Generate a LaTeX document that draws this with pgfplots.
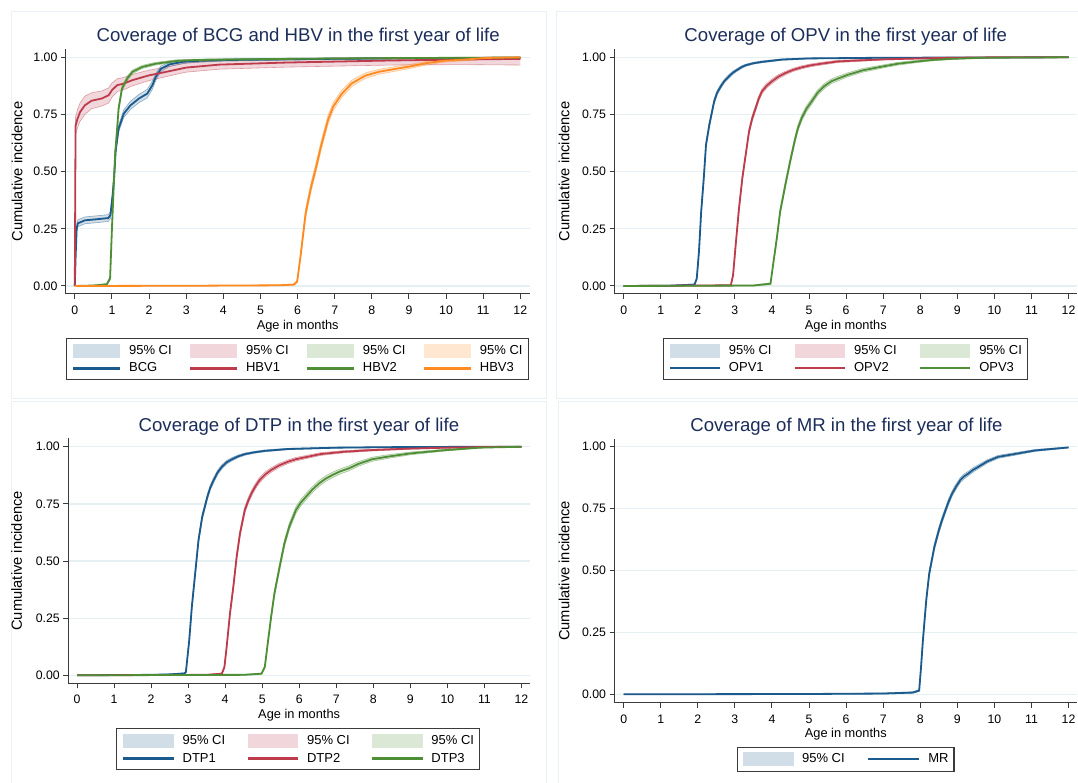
\documentclass[border=0pt]{standalone}
\usepackage{fontspec}
\setmainfont{Liberation Sans}
\usepackage{pgfplots}
\usepackage{pgfplotstable}
\pgfplotsset{compat=1.18}

\definecolor{cblue}{HTML}{1B5A8C}
\definecolor{cred}{HTML}{BD3B4B}
\definecolor{cgreen}{HTML}{4E8F36}
\definecolor{corange}{HTML}{FF8A1F}
\definecolor{titlenavy}{HTML}{1C2D5A}
\definecolor{axisgray}{HTML}{3A3A3A}
\definecolor{gridblue}{HTML}{E6F0F2}
\definecolor{panelline}{HTML}{EAF1F4}

% t = age in months, v = cumulative incidence, lo/hi = 95% CI
\pgfplotstableread{
t v lo hi
0 0 0 0
0.02 0.12 0.10 0.14
0.05 0.25 0.235 0.265
0.08 0.274 0.259 0.289
0.27 0.287 0.272 0.302
0.6 0.292 0.277 0.307
0.9 0.297 0.282 0.312
0.96 0.31 0.295 0.325
1.02 0.40 0.385 0.415
1.06 0.48 0.465 0.495
1.1 0.59 0.575 0.605
1.18 0.688 0.673 0.703
1.32 0.754 0.737 0.771
1.5 0.79 0.772 0.808
1.73 0.82 0.802 0.838
1.95 0.841 0.822 0.86
2.09 0.878 0.86 0.896
2.18 0.914 0.898 0.93
2.32 0.95 0.938 0.962
2.55 0.969 0.96 0.978
2.91 0.98 0.973 0.987
3.27 0.984 0.978 0.99
4 0.988 0.983 0.993
6 0.992 0.988 0.996
9 0.996 0.993 0.999
12 0.998 0.996 1.0
}\bcg

\pgfplotstableread{
t v lo hi
0 0 0 0
0.01 0.35 0.30 0.40
0.02 0.70 0.66 0.74
0.07 0.73 0.69 0.77
0.14 0.76 0.72 0.80
0.27 0.79 0.75 0.83
0.45 0.81 0.775 0.845
0.73 0.82 0.787 0.853
0.91 0.834 0.80 0.866
1.0 0.856 0.825 0.887
1.14 0.878 0.85 0.906
1.32 0.885 0.858 0.912
1.55 0.90 0.875 0.925
2.0 0.921 0.898 0.944
2.45 0.936 0.915 0.957
3.0 0.955 0.935 0.975
3.9 0.968 0.948 0.986
5.7 0.977 0.957 0.995
8.5 0.986 0.966 0.999
10.3 0.990 0.968 1.0
12 0.993 0.966 1.0
}\hbvone

\pgfplotstableread{
t v lo hi
0 0 0 0
0.5 0.002 0 0.004
0.86 0.007 0.003 0.011
0.95 0.033 0.025 0.041
1.0 0.25 0.235 0.265
1.05 0.441 0.425 0.457
1.09 0.587 0.571 0.603
1.14 0.688 0.673 0.703
1.18 0.776 0.762 0.79
1.27 0.863 0.851 0.875
1.41 0.907 0.897 0.917
1.55 0.936 0.928 0.944
1.82 0.958 0.951 0.965
2.18 0.972 0.966 0.978
2.73 0.984 0.979 0.989
3.27 0.988 0.984 0.992
5 0.992 0.989 0.995
8 0.996 0.994 0.998
12 0.999 0.998 1.0
}\hbvtwo

\pgfplotstableread{
t v lo hi
0 0 0 0
3 0.001 0 0.002
5.5 0.003 0.001 0.005
5.9 0.006 0.003 0.009
5.99 0.02 0.014 0.026
6.08 0.13 0.115 0.145
6.22 0.32 0.30 0.34
6.36 0.43 0.41 0.45
6.5 0.52 0.50 0.54
6.63 0.61 0.59 0.63
6.82 0.726 0.706 0.746
6.96 0.784 0.766 0.802
7.19 0.84 0.824 0.856
7.46 0.886 0.872 0.90
7.83 0.92 0.908 0.932
8.2 0.937 0.926 0.948
8.66 0.95 0.94 0.96
9.03 0.96 0.951 0.969
9.49 0.975 0.967 0.983
9.95 0.985 0.979 0.991
10.5 0.99 0.985 0.995
11.05 0.997 0.994 1.0
12 1.0 0.998 1.0
}\hbvthree

\pgfplotstableread{
t v lo hi
0 0 0 0
1.2 0.001 0 0.002
1.91 0.006 0.003 0.009
1.97 0.032 0.026 0.038
2.03 0.149 0.139 0.159
2.09 0.325 0.313 0.337
2.16 0.471 0.459 0.483
2.22 0.617 0.605 0.629
2.31 0.705 0.693 0.717
2.44 0.807 0.796 0.818
2.52 0.845 0.835 0.855
2.62 0.873 0.864 0.882
2.72 0.897 0.889 0.905
2.84 0.917 0.909 0.925
2.95 0.933 0.926 0.94
3.07 0.946 0.94 0.952
3.18 0.957 0.951 0.963
3.29 0.965 0.96 0.97
3.5 0.974 0.97 0.978
3.73 0.98 0.976 0.984
4.27 0.99 0.987 0.993
4.98 0.995 0.993 0.997
7 0.998 0.997 0.999
12 1.0 1.0 1.0
}\opvone

\pgfplotstableread{
t v lo hi
0 0 0 0
2.89 0.003 0.001 0.005
2.95 0.047 0.04 0.054
3.02 0.178 0.167 0.189
3.11 0.339 0.326 0.352
3.2 0.471 0.458 0.484
3.29 0.573 0.56 0.586
3.38 0.675 0.662 0.688
3.47 0.735 0.722 0.748
3.56 0.778 0.766 0.79
3.64 0.818 0.806 0.83
3.73 0.851 0.84 0.862
3.86 0.876 0.866 0.886
4.0 0.895 0.885 0.905
4.17 0.915 0.906 0.924
4.36 0.931 0.923 0.939
4.57 0.945 0.938 0.952
4.8 0.956 0.949 0.963
5.05 0.965 0.959 0.971
5.33 0.972 0.966 0.978
5.78 0.982 0.977 0.987
7 0.991 0.988 0.994
8.5 0.997 0.995 0.999
10 1.0 0.999 1.0
12 1.0 1.0 1.0
}\opvtwo

\pgfplotstableread{
t v lo hi
0 0 0 0
3.5 0.002 0 0.004
3.96 0.01 0.006 0.014
4.04 0.105 0.095 0.115
4.13 0.208 0.196 0.22
4.22 0.325 0.312 0.338
4.36 0.442 0.428 0.456
4.49 0.545 0.531 0.559
4.62 0.64 0.626 0.654
4.7 0.69 0.676 0.704
4.8 0.734 0.72 0.748
4.93 0.775 0.762 0.788
5.07 0.807 0.794 0.82
5.23 0.845 0.833 0.857
5.42 0.875 0.864 0.886
5.6 0.895 0.885 0.905
5.78 0.907 0.897 0.917
6.04 0.923 0.914 0.932
6.45 0.943 0.935 0.951
6.96 0.959 0.952 0.966
7.4 0.972 0.966 0.978
7.88 0.981 0.976 0.986
8.3 0.988 0.984 0.992
8.8 0.993 0.99 0.996
9.7 0.998 0.996 1.0
12 1.0 1.0 1.0
}\opvthree

\pgfplotstableread{
t v lo hi
0 0 0 0
2.0 0.002 0 0.004
2.5 0.004 0.002 0.006
2.9 0.008 0.005 0.011
2.94 0.015 0.011 0.019
3.03 0.153 0.143 0.163
3.1 0.299 0.287 0.311
3.19 0.445 0.432 0.458
3.28 0.591 0.578 0.604
3.38 0.693 0.68 0.706
3.52 0.781 0.769 0.793
3.6 0.822 0.811 0.833
3.69 0.854 0.843 0.865
3.79 0.886 0.876 0.896
3.91 0.912 0.903 0.921
4.04 0.932 0.924 0.94
4.18 0.945 0.938 0.952
4.35 0.958 0.952 0.964
4.54 0.968 0.963 0.973
4.8 0.976 0.972 0.98
5.07 0.982 0.978 0.986
5.69 0.99 0.987 0.993
7 0.996 0.994 0.998
9 0.999 0.998 1.0
12 1.0 1.0 1.0
}\dtpone

\pgfplotstableread{
t v lo hi
0 0 0 0
3.5 0.002 0 0.004
3.91 0.007 0.004 0.01
3.98 0.036 0.03 0.042
4.04 0.124 0.114 0.134
4.13 0.27 0.257 0.283
4.22 0.387 0.373 0.401
4.31 0.518 0.504 0.532
4.4 0.62 0.606 0.634
4.53 0.723 0.709 0.737
4.62 0.763 0.75 0.776
4.71 0.796 0.783 0.809
4.82 0.828 0.816 0.84
4.93 0.854 0.842 0.866
5.08 0.879 0.868 0.89
5.24 0.898 0.888 0.908
5.45 0.918 0.909 0.927
5.69 0.934 0.926 0.942
5.9 0.945 0.937 0.953
6.13 0.953 0.946 0.96
6.58 0.968 0.962 0.974
7.2 0.978 0.973 0.983
7.91 0.985 0.981 0.989
9 0.992 0.989 0.995
10 0.996 0.994 0.998
11 0.999 0.998 1.0
12 1.0 1.0 1.0
}\dtptwo

\pgfplotstableread{
t v lo hi
0 0 0 0
4.5 0.002 0 0.004
4.98 0.007 0.004 0.01
5.07 0.036 0.03 0.042
5.16 0.153 0.142 0.164
5.24 0.255 0.242 0.268
5.33 0.358 0.344 0.372
5.47 0.474 0.459 0.489
5.6 0.577 0.562 0.592
5.73 0.65 0.635 0.665
5.91 0.723 0.708 0.738
6.04 0.755 0.741 0.769
6.18 0.781 0.767 0.795
6.35 0.812 0.799 0.825
6.53 0.839 0.826 0.852
6.7 0.859 0.847 0.871
6.89 0.876 0.864 0.888
7.1 0.892 0.881 0.903
7.33 0.905 0.894 0.916
7.6 0.925 0.915 0.935
7.96 0.945 0.936 0.954
8.4 0.957 0.949 0.965
9.01 0.971 0.965 0.977
9.93 0.985 0.981 0.989
10.86 0.996 0.994 0.998
12 1.0 1.0 1.0
}\dtpthree

\pgfplotstableread{
t v lo hi
0 0 0 0
4.8 0.001 0 0.002
7 0.003 0.001 0.005
7.8 0.007 0.004 0.01
7.97 0.015 0.011 0.019
8.02 0.108 0.1 0.116
8.07 0.216 0.206 0.226
8.16 0.378 0.366 0.39
8.24 0.486 0.473 0.499
8.38 0.595 0.582 0.608
8.5 0.662 0.649 0.675
8.59 0.705 0.692 0.718
8.68 0.743 0.731 0.755
8.77 0.78 0.768 0.792
8.86 0.811 0.8 0.822
8.97 0.84 0.829 0.851
9.08 0.865 0.855 0.875
9.18 0.88 0.87 0.89
9.3 0.892 0.883 0.901
9.43 0.907 0.898 0.916
9.57 0.919 0.911 0.927
9.8 0.94 0.933 0.947
10.1 0.959 0.953 0.965
10.64 0.973 0.968 0.978
11.1 0.985 0.981 0.989
12 0.997 0.995 0.999
}\mr

% band polygon: upper limit left to right, then lower limit right to left
\newcommand\mkband[2]{%
  \pgfplotstablesort[sort key=t, sort cmp=float <]{#2}{#1}%
  \pgfplotstablecreatecol[copy=hi]{b}{#2}%
  \pgfplotstablesort[sort key=t, sort cmp=float >]{\tmprev}{#1}%
  \pgfplotstablecreatecol[copy=lo]{b}{\tmprev}%
  \pgfplotstablevertcat{#2}{\tmprev}%
}
\mkband{\bcg}{\bcgband}
\mkband{\hbvone}{\hbvoneband}
\mkband{\hbvtwo}{\hbvtwoband}
\mkband{\hbvthree}{\hbvthreeband}
\mkband{\opvone}{\opvoneband}
\mkband{\opvtwo}{\opvtwoband}
\mkband{\opvthree}{\opvthreeband}
\mkband{\dtpone}{\dtponeband}
\mkband{\dtptwo}{\dtptwoband}
\mkband{\dtpthree}{\dtpthreeband}
\mkband{\mr}{\mrband}

\def\legw{47.2pt}
\pgfplotsset{
  /pgf/number format/assume math mode=true,
  stata/.style={
    scale only axis,
    axis x line*=bottom, axis y line*=left,
    axis line style={-, draw=axisgray, line width=1pt},
    tick align=outside, major tick length=5pt,
    tick style={draw=axisgray, line width=1pt},
    xtick={0,1,...,12},
    ytick={0,0.25,0.5,0.75,1},
    yticklabels={0.00,0.25,0.50,0.75,1.00},
    ymajorgrids, grid style={draw=gridblue, line width=1.3pt},
    tick label style={font=\fontsize{12.3}{14}\selectfont, text=black},
    xticklabel style={inner sep=0pt, yshift=-6.7pt},
    xlabel={Age in months}, ylabel={Cumulative incidence},
    xlabel style={font=\fontsize{12.8}{14}\selectfont, anchor=center, inner sep=0pt},
    ylabel style={font=\fontsize{14.7}{17}\selectfont, anchor=center},
    title style={font=\fontsize{18.6}{21}\selectfont, text=titlenavy, anchor=center, yshift=-8pt},
    legend cell align=left,
    legend style={
      draw=axisgray, line width=1.1pt, fill=white,
      inner xsep=5.5pt, inner ysep=5pt, row sep=4.5pt,
      font=\fontsize{13}{15}\selectfont,
      nodes={inner sep=0pt, text height=9.6pt, text depth=2.7pt},
      anchor=north,
    },
  },
  ciband/.style={draw=none, fill=#1, fill opacity=0.2, mark=none,
    legend image code/.code={\fill[fill=#1, fill opacity=0.2] (0pt,-7pt) rectangle (\legw,7pt);}},
  km/.style={draw=#1, line width=1.8pt, mark=none,
    legend image code/.code={\draw[draw=#1, line width=2.2pt] (0pt,0pt) -- (\legw,0pt);}},
  ciedge/.style={draw=#1, draw opacity=0.45, line width=0.6pt, mark=none, forget plot},
}

\begin{document}
\begin{tikzpicture}
\useasboundingbox (0pt,0pt) rectangle (1078pt,783pt);
\fill[white] (0pt,0pt) rectangle (1078pt,783pt);
\draw[panelline, line width=1pt] (11.7pt,771.3pt) rectangle (546.7pt,384.7pt);
\draw[panelline, line width=1pt] (556.7pt,771.3pt) rectangle (1090pt,384.7pt);
\draw[panelline, line width=1pt] (11.7pt,381.3pt) rectangle (546.7pt,-10pt);
\draw[panelline, line width=1pt] (558pt,381.3pt) rectangle (1090pt,-10pt);

% ---- BCG and HBV ----
\begin{axis}[stata,
  at={(65.9pt,489pt)}, anchor=south west,
  width=463.6pt, height=244.7pt,
  xmin=-0.24, xmax=12.248, ymin=-0.035, ymax=1.035,
  title={Coverage of BCG and HBV in the first year of life},
  title style={at={(axis description cs:0.501,1.058)}},
  xlabel style={at={(axis description cs:0.5,-0.1296)}},
  ylabel style={at={(axis description cs:-0.105,0.5)}},
  legend columns=4,
  legend style={at={(axis description cs:0.499,-0.181)},
    /tikz/every odd column/.append style={column sep=7.8pt},
    /tikz/every even column/.append style={column sep=17.1pt}},
]
\addplot[ciband=cblue] table[x=t,y=b]{\bcgband};
\addplot[ciband=cred] table[x=t,y=b]{\hbvoneband};
\addplot[ciband=cgreen] table[x=t,y=b]{\hbvtwoband};
\addplot[ciband=corange] table[x=t,y=b]{\hbvthreeband};
\addplot[ciedge=cblue] table[x=t,y=hi]{\bcg};
\addplot[ciedge=cblue] table[x=t,y=lo]{\bcg};
\addplot[ciedge=cred] table[x=t,y=hi]{\hbvone};
\addplot[ciedge=cred] table[x=t,y=lo]{\hbvone};
\addplot[ciedge=cgreen] table[x=t,y=hi]{\hbvtwo};
\addplot[ciedge=cgreen] table[x=t,y=lo]{\hbvtwo};
\addplot[ciedge=corange] table[x=t,y=hi]{\hbvthree};
\addplot[ciedge=corange] table[x=t,y=lo]{\hbvthree};
\addplot[km=cblue] table[x=t,y=v]{\bcg};
\addplot[km=cred] table[x=t,y=v]{\hbvone};
\addplot[km=cgreen] table[x=t,y=v]{\hbvtwo};
\addplot[km=corange] table[x=t,y=v]{\hbvthree};
\legend{95\% CI,95\% CI,95\% CI,95\% CI,BCG,HBV1,HBV2,HBV3}
\end{axis}

\def\legw{50.2pt}
% ---- OPV ----
\begin{axis}[stata,
  at={(614.5pt,489pt)}, anchor=south west,
  width=462.5pt, height=244.7pt,
  xmin=-0.248, xmax=12.228, ymin=-0.035, ymax=1.035,
  title={Coverage of OPV in the first year of life},
  title style={at={(axis description cs:0.5,1.058)}},
  xlabel style={at={(axis description cs:0.5,-0.1296)}},
  ylabel style={at={(axis description cs:-0.109,0.5)}},
  legend columns=3,
  legend style={at={(axis description cs:0.499,-0.18)},
    /tikz/every odd column/.append style={column sep=7.9pt},
    /tikz/every even column/.append style={column sep=22.2pt}},
]
\addplot[ciband=cblue] table[x=t,y=b]{\opvoneband};
\addplot[ciband=cred] table[x=t,y=b]{\opvtwoband};
\addplot[ciband=cgreen] table[x=t,y=b]{\opvthreeband};
\addplot[ciedge=cblue] table[x=t,y=hi]{\opvone};
\addplot[ciedge=cblue] table[x=t,y=lo]{\opvone};
\addplot[ciedge=cred] table[x=t,y=hi]{\opvtwo};
\addplot[ciedge=cred] table[x=t,y=lo]{\opvtwo};
\addplot[ciedge=cgreen] table[x=t,y=hi]{\opvthree};
\addplot[ciedge=cgreen] table[x=t,y=lo]{\opvthree};
\addplot[km=cblue] table[x=t,y=v]{\opvone};
\addplot[km=cred] table[x=t,y=v]{\opvtwo};
\addplot[km=cgreen] table[x=t,y=v]{\opvthree};
\legend{95\% CI,95\% CI,95\% CI,OPV1,OPV2,OPV3}
\end{axis}

\def\legw{50.6pt}
% ---- DTP ----
\begin{axis}[stata,
  at={(68.3pt,99.7pt)}, anchor=south west,
  width=461.7pt, height=245pt,
  xmin=-0.235, xmax=12.23, ymin=-0.035, ymax=1.037,
  title={Coverage of DTP in the first year of life},
  title style={at={(axis description cs:0.4995,1.054)}},
  xlabel style={at={(axis description cs:0.5,-0.129)}},
  ylabel style={at={(axis description cs:-0.112,0.5)}},
  legend columns=3,
  legend style={at={(axis description cs:0.498,-0.184)},
    /tikz/every odd column/.append style={column sep=7.5pt},
    /tikz/every even column/.append style={column sep=21.5pt}},
]
\addplot[ciband=cblue] table[x=t,y=b]{\dtponeband};
\addplot[ciband=cred] table[x=t,y=b]{\dtptwoband};
\addplot[ciband=cgreen] table[x=t,y=b]{\dtpthreeband};
\addplot[ciedge=cblue] table[x=t,y=hi]{\dtpone};
\addplot[ciedge=cblue] table[x=t,y=lo]{\dtpone};
\addplot[ciedge=cred] table[x=t,y=hi]{\dtptwo};
\addplot[ciedge=cred] table[x=t,y=lo]{\dtptwo};
\addplot[ciedge=cgreen] table[x=t,y=hi]{\dtpthree};
\addplot[ciedge=cgreen] table[x=t,y=lo]{\dtpthree};
\addplot[km=cblue] table[x=t,y=v]{\dtpone};
\addplot[km=cred] table[x=t,y=v]{\dtptwo};
\addplot[km=cgreen] table[x=t,y=v]{\dtpthree};
\legend{95\% CI,95\% CI,95\% CI,DTP1,DTP2,DTP3}
\end{axis}

% ---- MR ----
\begin{axis}[stata,
  at={(614.5pt,80.3pt)}, anchor=south west,
  width=462.5pt, height=263.4pt,
  xmin=-0.248, xmax=12.228, ymin=-0.034, ymax=1.03,
  title={Coverage of MR in the first year of life},
  title style={at={(axis description cs:0.5016,1.054)}},
  xlabel style={at={(axis description cs:0.5,-0.1203)}},
  ylabel style={at={(axis description cs:-0.109,0.5)}},
  legend columns=2,
  legend style={at={(axis description cs:0.5,-0.167)},
    /tikz/every odd column/.append style={column sep=8.5pt},
    /tikz/every even column/.append style={column sep=22.2pt}},
]
\addplot[ciband=cblue] table[x=t,y=b]{\mrband};
\addplot[ciedge=cblue] table[x=t,y=hi]{\mr};
\addplot[ciedge=cblue] table[x=t,y=lo]{\mr};
\addplot[km=cblue] table[x=t,y=v]{\mr};
\legend{95\% CI,MR}
\end{axis}
\end{tikzpicture}
\end{document}
